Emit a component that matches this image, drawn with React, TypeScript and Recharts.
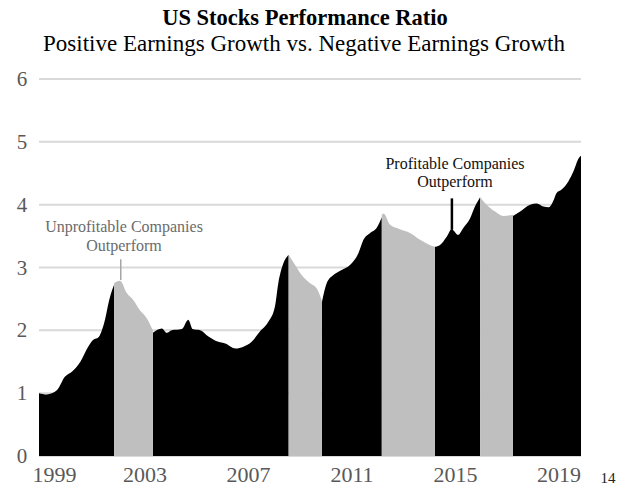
import { ComposedChart, Area, XAxis, YAxis, CartesianGrid, ReferenceLine } from 'recharts';

// ratio; a repeated year marks a switch of which group leads
// (starts with profitable companies leading, flips at every repeated year)
const years = [
  1998.9, 1999.2, 1999.6, 1999.9, 2000.17, 2000.5, 2000.8, 2001.0, 2001.2, 2001.4, 2001.65, 2001.8,
  2001.8, 2002.03, 2002.3, 2002.55, 2002.8, 2003.07, 2003.3,
  2003.3, 2003.65, 2003.84, 2004.03, 2004.42, 2004.67, 2004.84, 2005.13, 2005.45, 2005.7, 2006.1,
  2006.5, 2006.8, 2007.12, 2007.44, 2007.77, 2008.02, 2008.15, 2008.35, 2008.5, 2008.55,
  2008.55, 2008.8, 2009.05, 2009.38, 2009.63, 2009.83,
  2009.83, 2010.02, 2010.28, 2010.54, 2010.92, 2011.25, 2011.44, 2011.7, 2011.95, 2012.15,
  2012.15, 2012.22, 2012.47, 2012.85, 2013.24, 2013.63, 2014.0, 2014.2,
  2014.2, 2014.4, 2014.66, 2014.85, 2015.1, 2015.3, 2015.56, 2015.75, 2015.95,
  2015.95, 2016.2, 2016.53, 2016.85, 2017.22,
  2017.22, 2017.5, 2017.88, 2018.14, 2018.4, 2018.6, 2018.8, 2018.9, 2019.1, 2019.36, 2019.56,
  2019.76, 2019.85,
];

const ratio = [
  1.0, 0.98, 1.05, 1.26, 1.34, 1.5, 1.74, 1.85, 1.89, 2.09, 2.54, 2.72,
  2.75, 2.79, 2.59, 2.48, 2.32, 2.19, 2.0,
  1.96, 2.03, 1.96, 2.0, 2.02, 2.17, 2.02, 2.0, 1.9, 1.84, 1.79,
  1.71, 1.74, 1.82, 1.98, 2.14, 2.38, 2.75, 3.07, 3.18, 3.2,
  3.2, 3.04, 2.88, 2.75, 2.67, 2.48,
  2.43, 2.75, 2.88, 2.95, 3.04, 3.23, 3.44, 3.55, 3.63, 3.8,
  3.84, 3.86, 3.68, 3.61, 3.55, 3.44, 3.36, 3.33,
  3.33, 3.36, 3.49, 3.61, 3.52, 3.63, 3.78, 3.97, 4.12,
  4.12, 4.0, 3.89, 3.82, 3.84,
  3.82, 3.89, 4.0, 4.02, 3.97, 3.96, 4.08, 4.18, 4.24, 4.37, 4.53,
  4.74, 4.78,
];

const yearTicks = [1999, 2003, 2007, 2011, 2015, 2019];
const ratioTicks = [0, 1, 2, 3, 4, 5, 6];

// annotation markers: [year, from, to]
const unprofitableMark = [2002.06, 2.8, 3.13];
const profitableMark = [2014.86, 3.6, 4.1];

let positive = true;
const data = years.map((t, i) => {
  if (i > 0 && years[i - 1] === t) positive = !positive;
  return { t, pos: positive ? ratio[i] : null, neg: positive ? null : ratio[i] };
});

const FONT = '"Liberation Serif", "Times New Roman", serif';

const XTick = ({ x, payload, index }: any) => (
  <text x={x + (index === 0 ? 13 : 0)} y={482} textAnchor="middle" fontSize={22} fill="#595959" fontFamily={FONT}>
    {payload.value}
  </text>
);

const YTick = ({ y, payload }: any) => (
  <text x={22} y={y + 7} textAnchor="middle" fontSize={21} fill="#595959" fontFamily={FONT}>
    {payload.value}
  </text>
);

export default function App() {
  return (
    <div style={{ position: 'absolute', left: 0, top: 0, width: 623, height: 487, overflow: 'hidden', fontFamily: FONT, background: '#fff' }}>
      <div style={{ position: 'absolute', left: 0, width: 610, top: 5, textAlign: 'center', fontSize: 22.5, fontWeight: 'bold', color: '#000', lineHeight: '26px' }}>
        US Stocks Performance Ratio
      </div>
      <div style={{ position: 'absolute', left: 0, width: 608, top: 31, textAlign: 'center', fontSize: 23, color: '#000', lineHeight: '26px', whiteSpace: 'nowrap' }}>
        Positive Earnings Growth vs. Negative Earnings Growth
      </div>
      <ComposedChart width={623} height={487} data={data} margin={{ top: 79, right: 42, left: 0, bottom: 0 }}>
        <CartesianGrid vertical={false} stroke="#d9d9d9" strokeWidth={2} />
        <XAxis
          dataKey="t"
          type="number"
          domain={[1998.9, 2019.85]}
          ticks={yearTicks}
          interval={0}
          allowDataOverflow
          axisLine={false}
          tickLine={false}
          height={31}
          tick={<XTick />}
        />
        <YAxis domain={[0, 6]} ticks={ratioTicks} width={39} axisLine={false} tickLine={false} tick={<YTick />} />
        <Area type="monotone" dataKey="pos" stroke="none" fill="#000" fillOpacity={1} dot={false} activeDot={false} isAnimationActive={false} />
        <Area type="monotone" dataKey="neg" stroke="none" fill="#bfbfbf" fillOpacity={1} dot={false} activeDot={false} isAnimationActive={false} />
        <ReferenceLine
          segment={[{ x: unprofitableMark[0], y: unprofitableMark[1] }, { x: unprofitableMark[0], y: unprofitableMark[2] }]}
          stroke="#a6a6a6"
          strokeWidth={1.5}
        />
        <ReferenceLine
          segment={[{ x: profitableMark[0], y: profitableMark[1] }, { x: profitableMark[0], y: profitableMark[2] }]}
          stroke="#000"
          strokeWidth={2.5}
        />
      </ComposedChart>
      <div style={{ position: 'absolute', left: 44, width: 160, top: 218, textAlign: 'center', fontSize: 16, lineHeight: '18.5px', color: '#6b6b6b' }}>
        Unprofitable Companies
        <br />
        Outperform
      </div>
      <div style={{ position: 'absolute', left: 375, width: 160, top: 155, textAlign: 'center', fontSize: 16, lineHeight: '18px', color: '#111' }}>
        Profitable Companies
        <br />
        Outperform
      </div>
      <div style={{ position: 'absolute', left: 598, width: 20, top: 470, textAlign: 'center', fontSize: 15, lineHeight: '16px', color: '#222' }}>14</div>
    </div>
  );
}
